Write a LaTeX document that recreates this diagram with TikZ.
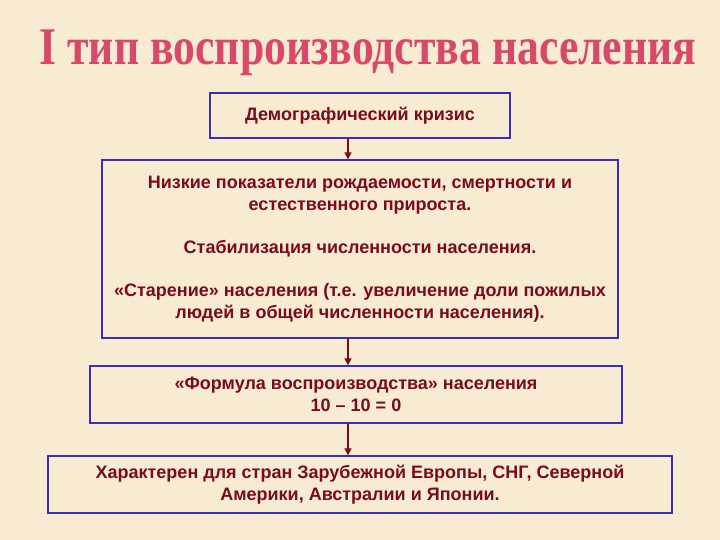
\documentclass[tikz,border=0pt]{standalone}
\usepackage{fontspec}
\setmainfont{Liberation Sans}
\newfontfamily\titlefont{Liberation Serif}
\usetikzlibrary{arrows.meta}
\definecolor{bg}{HTML}{F7EBD2}
\definecolor{txt}{HTML}{7A0A1E}
\definecolor{bx}{HTML}{3A2FB0}
\definecolor{ttl}{HTML}{D84868}
\tikzset{
 box/.style={draw=bx,line width=1.4pt,fill=bg,text=txt,font=\bfseries\fontsize{18}{22}\selectfont,align=center,inner sep=0pt},
 arr/.style={-{Triangle[length=7pt,width=7pt]},draw=txt,line width=1.6pt}
}
\begin{document}
\begin{tikzpicture}[x=1pt,y=-1pt]
\fill[bg] (0,0) rectangle (720,540);
\useasboundingbox (0,0) rectangle (720,540);
\node[text=ttl,font=\titlefont\bfseries] (title) at (368,53) {\scalebox{1.9}[2.3]{\fontsize{23}{23}\selectfont I тип воспроизводства населения}};
\node[box,minimum width=300pt,minimum height=45pt] (b1) at (360,115.5) {Демографический кризис};
\node[box,minimum width=516pt,minimum height=178pt] (b2) at (360,249) {Низкие показатели рождаемости, смертности и\\естественного прироста.\\[21pt]Стабилизация численности населения.\\[21pt]«Старение» населения (т.е. увеличение доли пожилых\\людей в общей численности населения).};
\node[box,minimum width=532pt,minimum height=57pt] (b3) at (356,394.5) {«Формула воспроизводства» населения\\10 – 10 = 0};
\node[box,minimum width=624pt,minimum height=57pt] (b4) at (360,484.5) {Характерен для стран Зарубежной Европы, СНГ, Северной\\Америки, Австралии и Японии.};
\draw[arr] (b1.south -| 348,0) -- (b2.north -| 348,0);
\draw[arr] (b2.south -| 348,0) -- (b3.north -| 348,0);
\draw[arr] (b3.south -| 348,0) -- (b4.north -| 348,0);
\end{tikzpicture}
\end{document}
